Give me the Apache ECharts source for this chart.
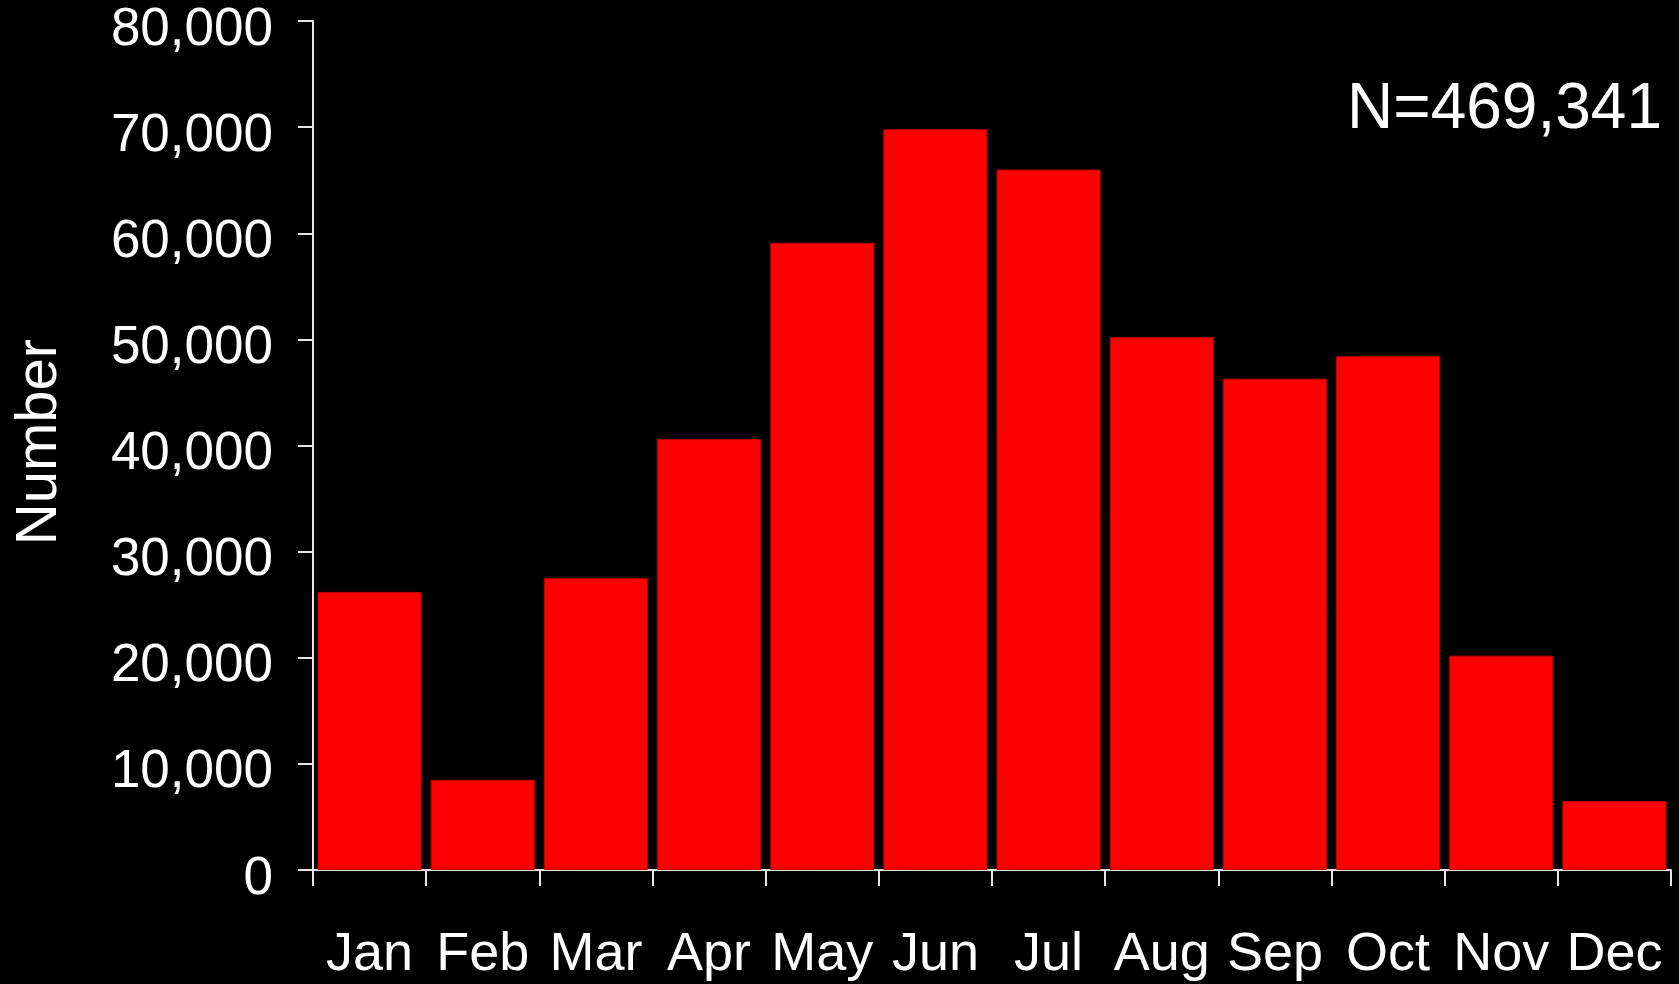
<!DOCTYPE html>
<html>
<head>
<meta charset="utf-8">
<script src="https://cdn.jsdelivr.net/npm/echarts@6/dist/echarts.min.js"></script>
<style>
  html, body { margin: 0; padding: 0; background: #000; }
  #main { width: 1679px; height: 984px; }
</style>
</head>
<body>
<div id="main"></div>
<script>
var months = ['Jan', 'Feb', 'Mar', 'Apr', 'May', 'Jun', 'Jul', 'Aug', 'Sep', 'Oct', 'Nov', 'Dec'];
var counts = [26200, 8500, 27500, 40600, 59100, 69800, 66000, 50200, 46300, 48400, 20200, 6500];
var totalLabel = 'N=469,341';
var yTitle = 'Number';

var chart = echarts.init(document.getElementById('main'));
var font = '"Liberation Sans", Arial, sans-serif';

var option = {
  backgroundColor: '#000',
  animation: false,
  grid: { left: 313, top: 21, right: 8, bottom: 114 },
  xAxis: {
    type: 'category',
    data: months,
    axisLine: { show: true, lineStyle: { color: '#e6e6e6', width: 2 } },
    axisTick: { show: true, alignWithLabel: false, length: 16, lineStyle: { color: '#e6e6e6', width: 2 } },
    axisLabel: {
      color: '#fff', fontSize: 54, fontFamily: font, margin: 58, interval: 0
    }
  },
  yAxis: {
    type: 'value',
    min: 0, max: 80000, interval: 10000,
    splitLine: { show: false },
    axisLine: { show: true, lineStyle: { color: '#e6e6e6', width: 2 } },
    axisTick: { show: true, length: 15, lineStyle: { color: '#e6e6e6', width: 2 } },
    axisLabel: {
      color: '#fff', fontSize: 53, fontFamily: font, margin: 40,
      // push the digits a bit below the tick, like the original
      formatter: function (v) { return '{t|' + v.toLocaleString('en-US') + '}'; },
      rich: { t: { color: '#fff', fontSize: 53, fontFamily: font, padding: [18, 0, 0, 0] } }
    }
  },
  series: [{
    type: 'bar',
    data: counts,
    barCategoryGap: '8%',
    itemStyle: { color: '#ff0000', borderColor: '#c00000', borderWidth: 1 }
  }],
  graphic: [
    {
      type: 'text', right: 17, top: 78,
      style: { text: totalLabel, fill: '#fff', font: '64px ' + font }
    },
    {
      type: 'text', x: 40, y: 442, rotation: Math.PI / 2,
      style: { text: yTitle, fill: '#fff', font: '58px ' + font, align: 'center', verticalAlign: 'middle' }
    }
  ]
};
chart.setOption(option);
</script>
</body>
</html>
